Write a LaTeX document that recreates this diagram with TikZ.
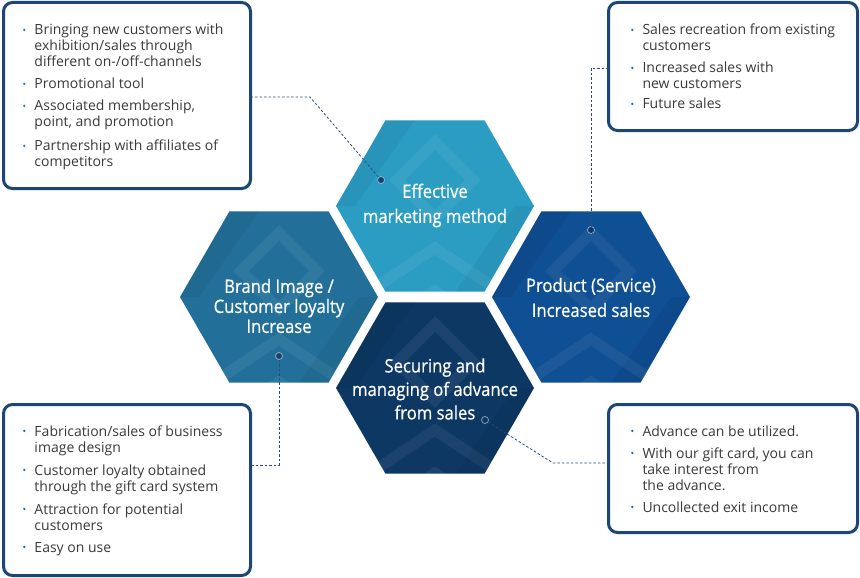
\documentclass[tikz,border=0pt]{standalone}
\usepackage{fontspec}
\setmainfont{Open Sans}
\newfontfamily\hexfont[FakeStretch=0.9,FakeBold=0.6]{Open Sans}
\usetikzlibrary{shapes.geometric}
\definecolor{hexA}{HTML}{2B9DC3}
\definecolor{hexB}{HTML}{22709A}
\definecolor{hexC}{HTML}{0F4F93}
\definecolor{hexD}{HTML}{0D3864}
\definecolor{boxc}{HTML}{1C4675}
\definecolor{txtc}{HTML}{3A3A3A}
\definecolor{bulc}{HTML}{2866A8}
\definecolor{connc}{HTML}{2B4B78}
\definecolor{dotc}{HTML}{1D3D6B}
\newcommand\bul{\makebox[11.5pt][l]{\raisebox{3.8pt}{\tikz\fill[bulc] (0,0) circle (1.3pt);}}}
\newcommand\ind{\hspace*{11.5pt}}
\newcommand\hexpat[1]{%
  \begin{scope}
    \clip (#1.corner 1) -- (#1.corner 2) -- (#1.corner 3) -- (#1.corner 4) -- (#1.corner 5) -- (#1.corner 6) -- cycle;
    \begin{scope}[shift={(#1.center)}]
      \draw[lite] (0,-64) -- (38,-26) -- (0,12) -- (-38,-26) -- cycle;
      \draw[lite] (-120,122) -- (0,42) -- (120,122);
      \draw[lite] (-120,165) -- (0,85) -- (120,165);
      \draw[lite] (-120,-10) -- (-60,-90);
      \draw[lite] (120,-10) -- (60,-90);
      \fill[darkf] (-99,0) -- (-50,-86) -- (-20,-86) -- (-80,0) -- cycle;
      \fill[darkf] (99,0) -- (50,86) -- (20,86) -- (80,0) -- cycle;
    \end{scope}
  \end{scope}}
\begin{document}
\begin{tikzpicture}[x=1pt,y=-1pt,
  hex/.style={regular polygon, regular polygon sides=6, minimum size=198pt, inner sep=0pt, outer sep=0pt, draw=none},
  lite/.style={draw=white, draw opacity=0.06, line width=11pt, line join=miter},
  darkf/.style={fill=black, fill opacity=0.05},
  hext/.style={text=white, align=center, font=\hexfont\fontsize{18.5}{25}\selectfont, inner sep=0pt},
  box/.style={rectangle, draw=boxc, line width=3pt, rounded corners=9pt, fill=white, inner sep=0pt, outer sep=0pt},
  txt/.style={font=\fontsize{14}{16}\selectfont, text=txtc, inner sep=0pt},
  conn/.style={draw=connc, line width=0.8pt, dash pattern=on 2.5pt off 2pt},
  dotn/.style={circle, inner sep=0pt, minimum size=7pt, line width=0.7pt}]
\useasboundingbox (0,0) rectangle (860,578);
\fill[white] (0,0) rectangle (860,578);
% hexagons
\node[hex, fill=hexA] (hA) at (435,206) {};
\node[hex, fill=hexB] (hB) at (279,297) {};
\node[hex, fill=hexC] (hC) at (591,297) {};
\node[hex, fill=hexD] (hD) at (435,388) {};
\hexpat{hA}\hexpat{hB}\hexpat{hC}\hexpat{hD}
% hexagon titles
\node[hext] (tA) at (435,205.5) {Effective\\marketing method};
\node[hext, font=\hexfont\fontsize{18.5}{20}\selectfont] (tB) at (279,306) {Brand Image /\\Customer loyalty\\Increase};
\node[hext] (tC) at (591,297.5) {Product (Service)\\Increased sales};
\node[hext, font=\hexfont\fontsize{18.5}{23.5}\selectfont] (tD) at (435,389) {Securing and\\managing of advance\\from sales};
% boxes
\node[box, minimum width=247pt, minimum height=186pt] (b1) at (127,95.5) {};
\node[box, minimum width=249pt, minimum height=128pt] (b2) at (733,66.5) {};
\node[box, minimum width=247pt, minimum height=171pt] (b3) at (127,490) {};
\node[box, minimum width=249pt, minimum height=128pt] (b4) at (733,468.5) {};
% box texts
\node[txt, anchor=base west] (t1) at (22.8,35) {\begin{tabular}[t]{@{}l@{}}
\bul Bringing new customers with\\
\ind exhibition/sales through\\
\ind different on-/off-channels\\[6pt]
\bul Promotional tool\\[6pt]
\bul Associated membership,\\
\ind point, and promotion\\[8pt]
\bul Partnership with affiliates of\\
\ind competitors
\end{tabular}};
\node[txt, anchor=base west] (t2) at (630.8,35) {\begin{tabular}[t]{@{}l@{}}
\bul Sales recreation from existing\\
\ind customers\\[6pt]
\bul Increased sales with\\
\ind new customers\\[4pt]
\bul Future sales
\end{tabular}};
\node[txt, anchor=base west] (t3) at (22.8,436) {\begin{tabular}[t]{@{}l@{}}
\bul Fabrication/sales of business\\
\ind image design\\[7pt]
\bul Customer loyalty obtained\\
\ind through the gift card system\\[7pt]
\bul Attraction for potential\\
\ind customers\\[6pt]
\bul Easy on use
\end{tabular}};
\node[txt, anchor=base west] (t4) at (630.8,436) {\begin{tabular}[t]{@{}l@{}}
\bul Advance can be utilized.\\[6pt]
\bul With our gift card, you can\\
\ind take interest from\\
\ind the advance.\\[6pt]
\bul Uncollected exit income
\end{tabular}};
% dots
\node[dotn, fill=dotc, draw=hexA!60!white] (d1) at (381,180) {};
\node[dotn, fill=hexC!70!black, draw=hexC!45!white] (d2) at (591,230) {};
\node[dotn, fill=dotc, draw=hexB!50!white] (d3) at (279,356) {};
\node[dotn, fill=hexD, draw=hexD!45!white] (d4) at (485,420) {};
% bends
\coordinate (k1) at (310,97);
\coordinate (k2) at (591,68);
\coordinate (k3) at (279,465);
\coordinate (k4) at (553,463);
% connectors
\draw[conn] (b1.east |- k1) -- (k1) -- (d1);
\draw[conn] (b2.west |- k2) -- (k2) -- (d2);
\draw[conn] (d3) -- (k3) -- (b3.east |- k3);
\draw[conn] (d4) -- (k4) -- (b4.west |- k4);
\end{tikzpicture}
\end{document}
